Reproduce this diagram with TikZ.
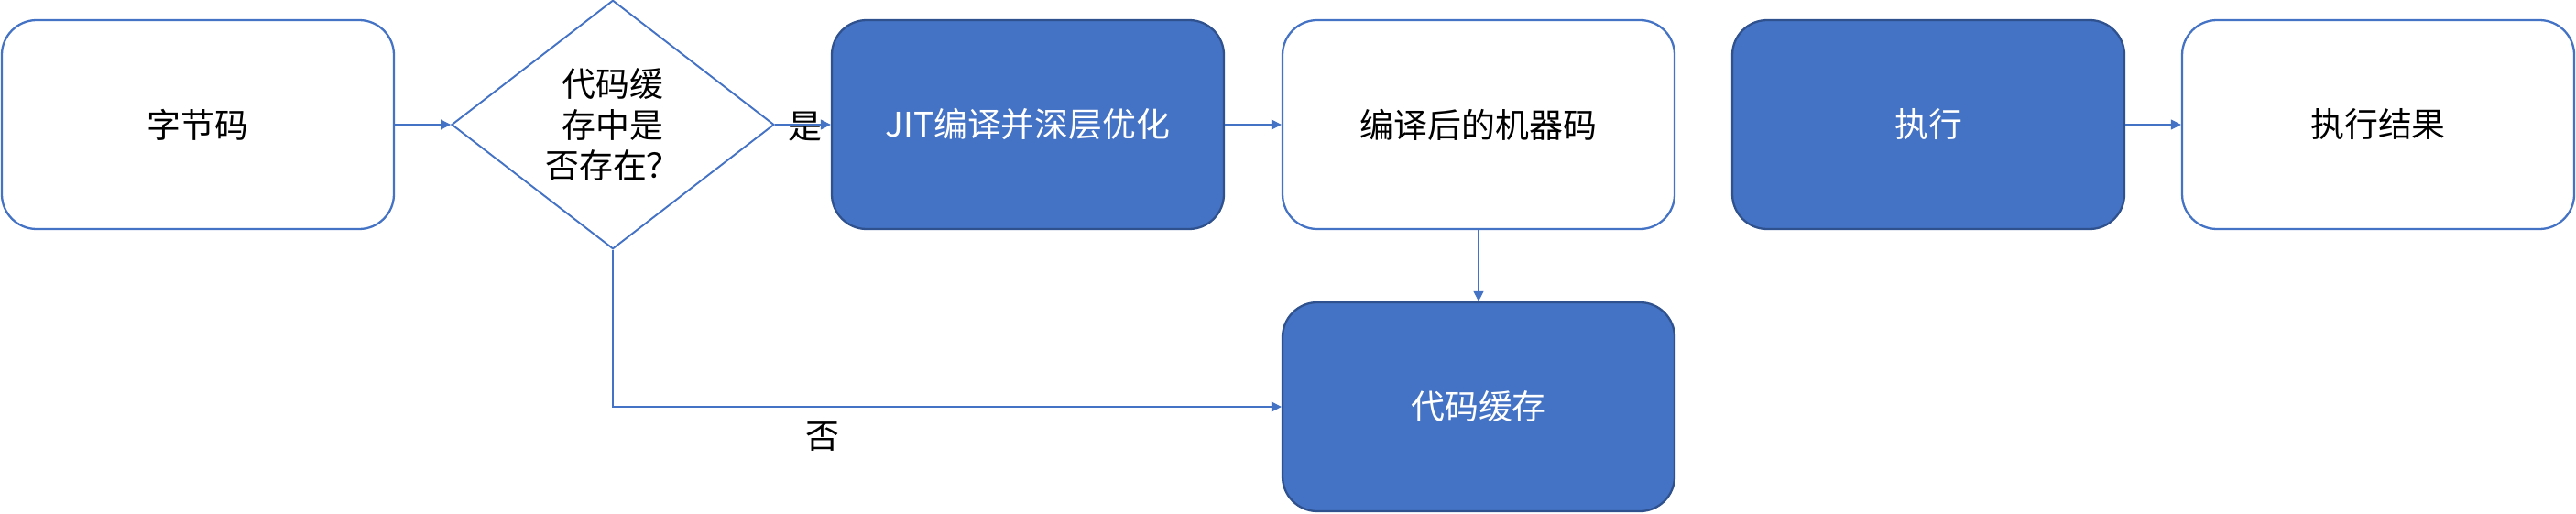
\documentclass[tikz,border=0pt]{standalone}
\usepackage{fontspec}
\usepackage{xcolor}
\usetikzlibrary{shapes.geometric,arrows.meta}
\newfontfamily\cjk{Noto Sans CJK SC}
\definecolor{flowblue}{HTML}{4472C4}
\definecolor{flowedge}{HTML}{2F528F}

\tikzset{
    whitebox/.style={draw=flowblue, line width=0.65pt, fill=white, rounded corners=0.38cm,
        minimum width=4.28cm, minimum height=2.28cm, font=\cjk\fontsize{10.5}{12.8}\selectfont},
    bluebox/.style={whitebox, draw=flowedge, fill=flowblue, text=white},
    decision/.style={diamond, draw=flowblue, line width=0.55pt, inner sep=0pt,
        minimum width=3.52cm, minimum height=2.68cm, align=center,
        font=\cjk\fontsize{10.5}{12.8}\selectfont},
    flow/.style={draw=flowblue, line width=0.35pt, -{Triangle[length=1.1mm, width=1.1mm]}},
    answer/.style={font=\cjk\fontsize{10.5}{12.8}\selectfont}
}

\begin{document}
\begin{tikzpicture}
        \useasboundingbox (0,0) rectangle (28.12,-5.6);

        % Top row
        \node[whitebox] (bytecode) at (2.16,-1.36) {字节码};
        \node[decision] (check) at (6.69,-1.36) {代码缓\\存中是\\否存在？};
        \node[bluebox] (jit) at (11.22,-1.36) {JIT编译并深层优化};
        \node[whitebox] (machine) at (16.14,-1.36) {编译后的机器码};
        \node[bluebox] (exec) at (21.05,-1.36) {执行};
        \node[whitebox] (result) at (25.96,-1.36) {执行结果};

        % Bottom row
        \node[bluebox] (cache) at (16.14,-4.44) {代码缓存};

        % Yes / no labels
        \node[answer] (yes) at (8.79,-1.38) {是};
        \node[answer] (no) at (8.98,-4.77) {否};

        % Arrows
        \draw[flow] (bytecode) -- (check);
        \draw[flow] (check.east) -- (jit.west);
        \draw[flow] (jit) -- (machine);
        \draw[flow] (machine) -- (cache);
        \draw[flow] (check.south) |- (cache.west);
        \draw[flow] (exec) -- (result);

    \end{tikzpicture}
\end{document}
